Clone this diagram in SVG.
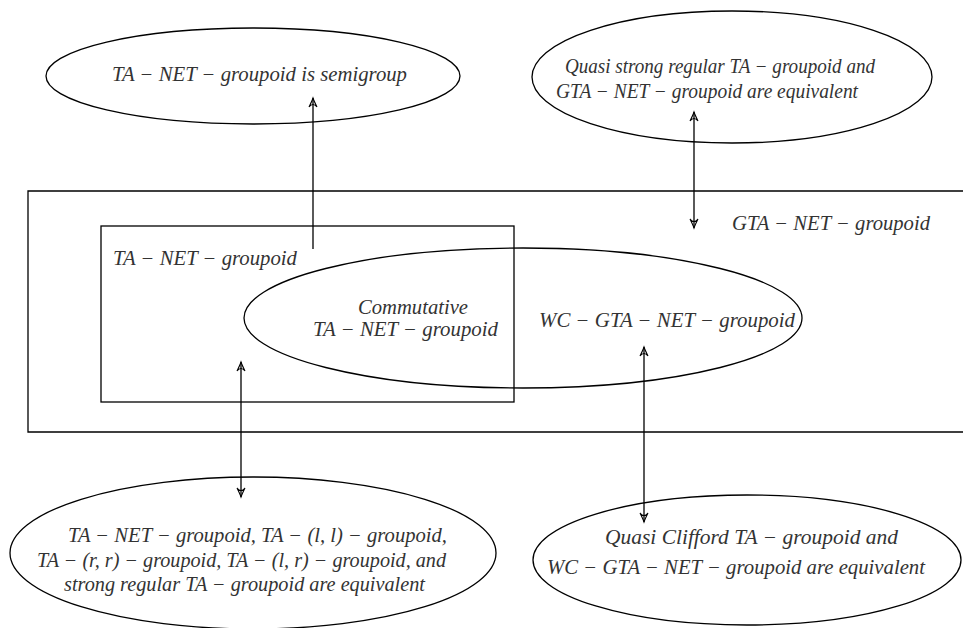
<svg xmlns="http://www.w3.org/2000/svg" width="963" height="628" viewBox="0 0 963 628">
<style>
.sh{fill:none;stroke:#000;stroke-width:1.3}
.t{font-family:"Liberation Serif",serif;font-style:italic;font-size:20px;fill:#333}
.c{stroke:#000;stroke-width:1.3;fill:none}
</style>
<defs>
<marker id="ah" viewBox="-10 -5 12 10" refX="0" refY="0" markerWidth="12" markerHeight="10" markerUnits="userSpaceOnUse" orient="auto-start-reverse">
<path d="M-9,-4 Q-3,-1 0,0 Q-3,1 -9,4 M-9,-4 Q-4,0 -9,4" fill="none" stroke="#000" stroke-width="1.1"/>
</marker>
</defs>
<rect width="963" height="628" fill="#fff"/>
<g id="gta">
<path class="sh" d="M970,191 H28 V432 H970"/>
<text class="t" x="732" y="230" textLength="198" lengthAdjust="spacingAndGlyphs">GTA − NET − groupoid</text>
</g>
<g id="ta">
<rect class="sh" x="101" y="226" width="413" height="176"/>
<text class="t" x="113" y="265" textLength="184" lengthAdjust="spacingAndGlyphs">TA − NET − groupoid</text>
</g>
<g id="comm">
<ellipse class="sh" cx="523" cy="318" rx="279" ry="70"/>
<text class="t" x="358" y="314" textLength="110" lengthAdjust="spacingAndGlyphs">Commutative</text>
<text class="t" x="313" y="336" textLength="185" lengthAdjust="spacingAndGlyphs">TA − NET − groupoid</text>
<text class="t" x="539" y="327" textLength="256" lengthAdjust="spacingAndGlyphs">WC − GTA − NET − groupoid</text>
</g>
<g id="semi">
<ellipse class="sh" cx="253" cy="76" rx="207" ry="48"/>
<text class="t" x="112" y="81" textLength="295" lengthAdjust="spacingAndGlyphs">TA − NET − groupoid is semigroup</text>
</g>
<g id="quasistrong">
<ellipse class="sh" cx="732" cy="77" rx="200" ry="66"/>
<text class="t" x="565" y="73" textLength="310" lengthAdjust="spacingAndGlyphs">Quasi strong regular TA − groupoid and</text>
<text class="t" x="556" y="98" textLength="302" lengthAdjust="spacingAndGlyphs">GTA − NET − groupoid  are equivalent</text>
</g>
<g id="equiv">
<ellipse class="sh" cx="253" cy="553" rx="243" ry="76"/>
<text class="t" x="68" y="542" textLength="379" lengthAdjust="spacingAndGlyphs">TA − NET − groupoid, TA − (l, l) − groupoid,</text>
<text class="t" x="37" y="567" textLength="409" lengthAdjust="spacingAndGlyphs">TA − (r, r) − groupoid, TA − (l, r) − groupoid, and</text>
<text class="t" x="64" y="591" textLength="361" lengthAdjust="spacingAndGlyphs">strong regular TA − groupoid are equivalent</text>
</g>
<g id="clifford">
<ellipse class="sh" cx="747" cy="560" rx="214" ry="65"/>
<text class="t" x="605" y="544" textLength="293" lengthAdjust="spacingAndGlyphs">Quasi Clifford  TA − groupoid and</text>
<text class="t" x="547" y="574" textLength="378" lengthAdjust="spacingAndGlyphs">WC − GTA − NET − groupoid  are equivalent</text>
</g>
<g id="connectors">
<line class="c" x1="313" y1="249" x2="313" y2="98" marker-end="url(#ah)"/>
<line class="c" x1="694" y1="112" x2="694" y2="228" marker-start="url(#ah)" marker-end="url(#ah)"/>
<line class="c" x1="241" y1="362" x2="241" y2="497" marker-start="url(#ah)" marker-end="url(#ah)"/>
<line class="c" x1="644" y1="347" x2="644" y2="522" marker-start="url(#ah)" marker-end="url(#ah)"/>
</g>
</svg>
